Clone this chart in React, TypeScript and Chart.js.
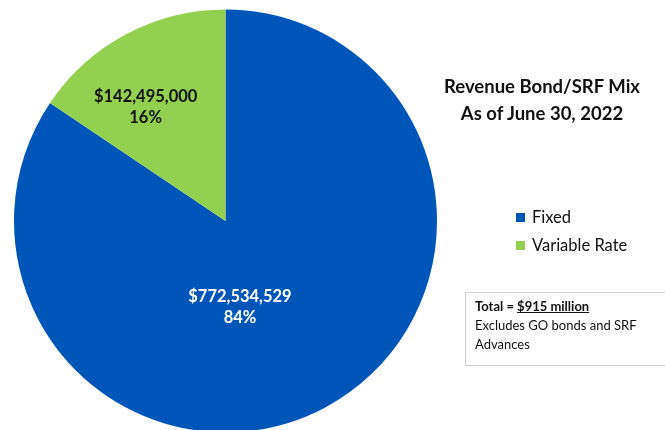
import React, { useEffect, useRef } from "react";
import { Chart, registerables } from "chart.js";

Chart.register(...registerables);

const categories = ["Fixed", "Variable Rate"];
const amounts = [772534529, 142495000];
const percentLabels = ["84%", "16%"];
const sliceColors = ["#0056B8", "#92D050"];
const labelColors = ["#FFFFFF", "#111111"];
const titleLines = ["Revenue Bond/SRF Mix", "As of June 30, 2022"];
const noteTotal = "$915 million";
const noteLines = ["Excludes GO bonds and SRF", "Advances"];

// label placement per slice: angle (deg, clockwise from top), fraction of radius
const labelPolar = [
  { angle: 170.4, frac: 0.41 },
  { angle: -34.9, frac: 0.66 },
];

const FONT = "Lato, 'Open Sans', 'Liberation Sans', sans-serif";

const sliceLabelPlugin = {
  id: "sliceLabels",
  afterDatasetsDraw(chart: any) {
    const ctx = chart.ctx;
    const meta = chart.getDatasetMeta(0);
    meta.data.forEach((arc: any, i: number) => {
      const p = labelPolar[i];
      const a = (p.angle * Math.PI) / 180;
      const r = arc.outerRadius * p.frac;
      const x = arc.x + r * Math.sin(a);
      const y = arc.y - r * Math.cos(a);
      ctx.save();
      ctx.fillStyle = labelColors[i];
      ctx.font = `bold 16.5px ${FONT}`;
      ctx.textAlign = "center";
      ctx.textBaseline = "middle";
      ctx.fillText("$" + amounts[i].toLocaleString("en-US"), x, y - 10);
      ctx.fillText(percentLabels[i], x, y + 11);
      ctx.restore();
    });
  },
};

export default function App() {
  const ref = useRef<HTMLCanvasElement>(null);
  useEffect(() => {
    document.body.style.margin = "0";
    const chart = new Chart(ref.current!, {
      type: "pie",
      data: {
        labels: categories,
        datasets: [
          {
            data: amounts,
            backgroundColor: sliceColors,
            borderWidth: 0,
          },
        ],
      },
      options: {
        responsive: false,
        animation: false,
        layout: { padding: { left: 14, top: 9.5, right: 228, bottom: 7.5 } },
        plugins: {
          legend: { display: false },
          tooltip: { enabled: false },
        },
      },
      plugins: [sliceLabelPlugin],
    });
    return () => chart.destroy();
  }, []);

  return (
    <div
      style={{
        position: "relative",
        width: 665,
        height: 430,
        overflow: "hidden",
        background: "#fff",
        fontFamily: FONT,
        color: "#111",
      }}
    >
      <canvas ref={ref} width={665} height={440} style={{ position: "absolute", left: 0, top: 0 }} />
      <div
        style={{
          position: "absolute",
          left: 420,
          width: 244,
          top: 73,
          textAlign: "center",
          fontWeight: "bold",
          fontSize: 18.5,
          lineHeight: "27px",
        }}
      >
        {titleLines.map((t) => (
          <div key={t}>{t}</div>
        ))}
      </div>
      <div style={{ position: "absolute", left: 516, top: 203, fontSize: 16.5 }}>
        {categories.map((c, i) => (
          <div key={c} style={{ display: "flex", alignItems: "center", height: 28 }}>
            <span
              style={{
                display: "inline-block",
                width: 9,
                height: 9,
                background: sliceColors[i],
                marginRight: 7,
              }}
            />
            <span>{c}</span>
          </div>
        ))}
      </div>
      <div
        style={{
          position: "absolute",
          left: 465,
          top: 292,
          width: 205,
          height: 74,
          border: "1px solid #d0d0d0",
          boxSizing: "border-box",
          padding: "4px 0 0 9px",
          fontSize: 13,
          lineHeight: "19px",
        }}
      >
        <div style={{ fontWeight: "bold" }}>
          Total = <span style={{ textDecoration: "underline" }}>{noteTotal}</span>
        </div>
        {noteLines.map((t) => (
          <div key={t}>{t}</div>
        ))}
      </div>
    </div>
  );
}
